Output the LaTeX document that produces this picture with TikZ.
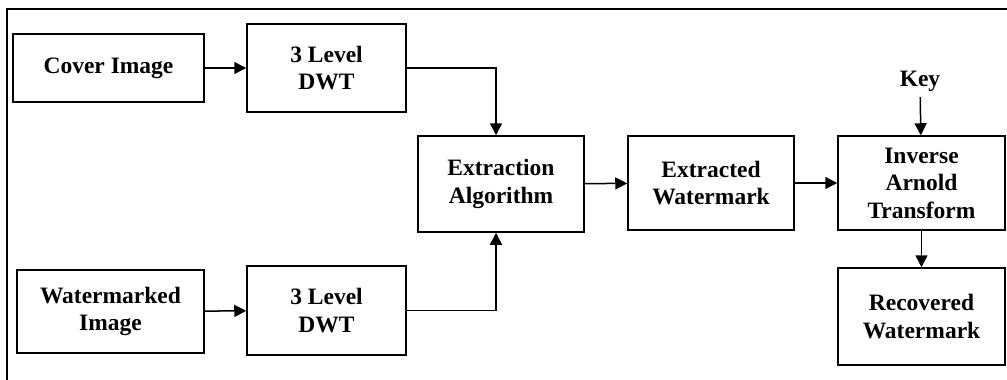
\documentclass[tikz,border=0pt]{standalone}
\usepackage{fontspec}
\setmainfont{Liberation Serif}
\usetikzlibrary{arrows.meta}

\begin{document}
\begin{tikzpicture}[x=1pt, y=-1pt,
    blockbox/.style={draw, line width=1.5pt, align=center, inner sep=0pt,
        font=\fontsize{23.5}{27.5}\selectfont\bfseries},
    flow/.style={-{Triangle[length=12pt, width=12pt]}, line width=1.5pt}]
    \useasboundingbox (0, 0) rectangle (1007, 380);
    % frame
    \draw[line width=2.5pt] (7, 380) -- (7, 9) -- (1007, 9);
    \node[blockbox, minimum width=191pt, minimum height=68pt] (cover) at (108.5, 68) {Cover Image};
    \node[blockbox, minimum width=159pt, minimum height=88pt] (dwta) at (326.5, 68) {3 Level\\DWT};
    \node[blockbox, minimum width=187pt, minimum height=83pt] (wmimg) at (110.5, 311.5) {Watermarked\\Image};
    \node[blockbox, minimum width=159pt, minimum height=89pt] (dwtb) at (326.5, 310.5) {3 Level\\DWT};
    \node[blockbox, minimum width=166pt, minimum height=96pt] (extract) at (501, 184) {Extraction\\Algorithm};
    \node[blockbox, minimum width=166pt, minimum height=94pt] (extracted) at (711, 183) {Extracted\\Watermark};
    \node[blockbox, minimum width=167pt, minimum height=94pt] (inverse) at (921.5, 183) {Inverse\\Arnold\\Transform};
    \node[blockbox, minimum width=167pt, minimum height=97pt] (recovered) at (921.5, 316.5) {Recovered\\Watermark};
    \node[font=\fontsize{23.5}{27.5}\selectfont\bfseries, inner sep=0pt, outer sep=6pt] (key) at (920, 81) {Key};
    \draw[flow] (cover) -- (dwta);
    \draw[flow] (wmimg) -- (dwtb);
    \draw[flow] (dwta.east) -| ([xshift=-5pt]extract.north);
    \draw[flow] (dwtb.east) -| ([xshift=-5pt]extract.south);
    \draw[flow] (extract) -- (extracted);
    \draw[flow] (extracted) -- (inverse);
    \draw[flow] (key) -- (inverse);
    \draw[flow] (inverse) -- (recovered);
\end{tikzpicture}
\end{document}
